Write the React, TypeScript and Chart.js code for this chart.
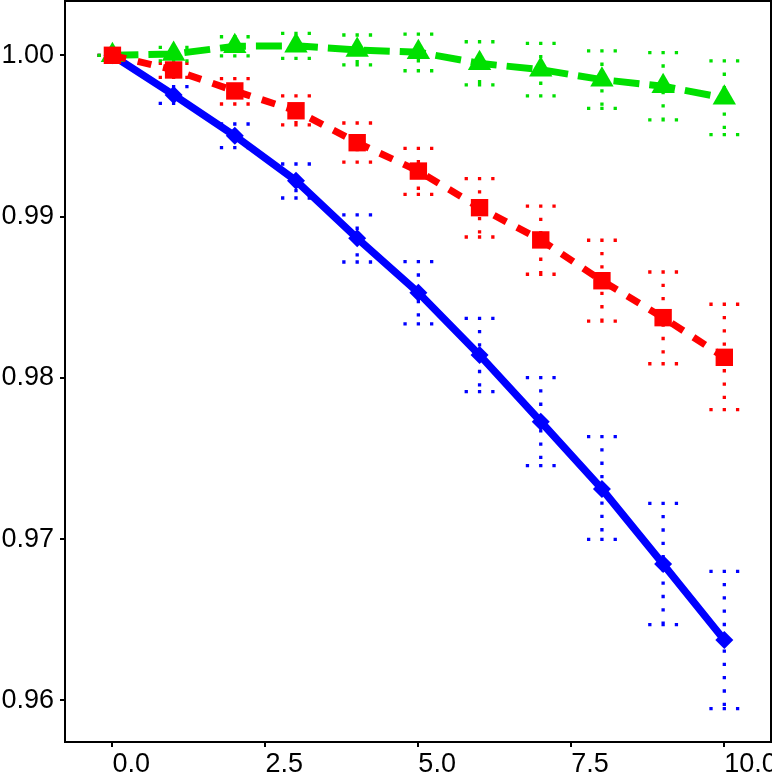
import { useRef, useEffect } from "react";
import { Chart, registerables, type Plugin } from "chart.js";

Chart.register(...registerables);

const X_VALUES = [0, 1, 2, 3, 4, 5, 6, 7, 8, 9, 10];
const X_TICKS = [0, 2.5, 5, 7.5, 10];
const Y_TICKS = [0.96, 0.97, 0.98, 0.99, 1.0];

const BLUE_MEAN = [1.0, 0.99754, 0.99501, 0.99222, 0.98865, 0.98528, 0.98141, 0.97728, 0.9731, 0.96845, 0.96374];
const BLUE_LOW = [1.0, 0.99702, 0.99428, 0.99115, 0.98718, 0.98335, 0.97914, 0.97455, 0.96998, 0.96469, 0.95948];
const BLUE_HIGH = [1.0, 0.99806, 0.99574, 0.99326, 0.9901, 0.9872, 0.98369, 0.98001, 0.97635, 0.97221, 0.968];

const RED_MEAN = [1.0, 0.99909, 0.99779, 0.99656, 0.99458, 0.99282, 0.99055, 0.98855, 0.98602, 0.98373, 0.98127];
const RED_LOW = [1.0, 0.99863, 0.99698, 0.99568, 0.99338, 0.99138, 0.98873, 0.98642, 0.98352, 0.98087, 0.97802];
const RED_HIGH = [1.0, 0.9995, 0.99855, 0.99748, 0.9958, 0.99423, 0.99235, 0.99065, 0.98853, 0.98656, 0.98456];

const GREEN_MEAN = [1.0, 1.00008, 1.00056, 1.00059, 1.00033, 1.00019, 0.9995, 0.99911, 0.99849, 0.99808, 0.99736];
const GREEN_LOW = [1.0, 0.99966, 0.99996, 0.99981, 0.9994, 0.99904, 0.99816, 0.99748, 0.99671, 0.99599, 0.99508];
const GREEN_HIGH = [1.0, 1.00049, 1.00115, 1.00136, 1.00126, 1.00131, 1.00084, 1.00074, 1.00027, 1.00016, 0.99965];

const BLUE = "#0000FF";
const RED = "#FF0000";
const GREEN = "#00E000";

const ERRORS = [
  { color: BLUE, low: BLUE_LOW, high: BLUE_HIGH },
  { color: RED, low: RED_LOW, high: RED_HIGH },
  { color: GREEN, low: GREEN_LOW, high: GREEN_HIGH },
];

const FONT = { family: "'Liberation Sans', Arial, sans-serif", size: 27 };

// dotted error bars with dotted caps, drawn under the lines
const errorBars: Plugin<"line"> = {
  id: "errorBars",
  beforeDatasetsDraw(chart) {
    const { ctx, scales } = chart;
    const xs = scales.x;
    const ys = scales.y;
    const dot = 3.3;
    const period = 13.3;
    ctx.save();
    ctx.lineWidth = dot;
    ctx.lineCap = "butt";
    ctx.setLineDash([dot, period - dot]);
    ERRORS.forEach((e) => {
      ctx.strokeStyle = e.color;
      X_VALUES.forEach((xv, i) => {
        const px = xs.getPixelForValue(xv);
        const top = ys.getPixelForValue(e.high[i]);
        const bot = ys.getPixelForValue(e.low[i]);
        ctx.beginPath();
        ctx.moveTo(px, top - dot / 2);
        ctx.lineTo(px, bot + dot / 2);
        [top, bot].forEach((py) => {
          ctx.moveTo(px - period - dot / 2, py);
          ctx.lineTo(px + period + dot / 2, py);
        });
        ctx.stroke();
      });
    });
    ctx.restore();
  },
  afterDraw(chart) {
    const { ctx, chartArea } = chart;
    ctx.save();
    ctx.strokeStyle = "#000";
    ctx.lineWidth = 2;
    ctx.beginPath();
    ctx.moveTo(chartArea.left, chartArea.top);
    ctx.lineTo(chartArea.right, chartArea.top);
    ctx.lineTo(chartArea.right, chartArea.bottom);
    ctx.stroke();
    ctx.restore();
  },
};

// keep the plot box where the reference has it, regardless of label overhang
const noOverhang = (s: any) => {
  s.paddingTop = 0;
  s.paddingBottom = 0;
  s.paddingLeft = 0;
  s.paddingRight = 0;
};

export default function App() {
  const canvasRef = useRef<HTMLCanvasElement>(null);
  const chartRef = useRef<Chart | null>(null);

  useEffect(() => {
    if (!canvasRef.current) return;
    chartRef.current?.destroy();

    const toPoints = (ys: number[]) => X_VALUES.map((x, i) => ({ x, y: ys[i] }));

    chartRef.current = new Chart(canvasRef.current, {
      type: "line",
      data: {
        datasets: [
          {
            data: toPoints(RED_MEAN),
            borderColor: RED,
            backgroundColor: RED,
            borderWidth: 7,
            borderDash: [14, 12],
            pointStyle: "rect",
            pointRadius: 12.3,
            pointBorderWidth: 0,
            pointBackgroundColor: RED,
          },
          {
            data: toPoints(GREEN_MEAN),
            borderColor: GREEN,
            backgroundColor: GREEN,
            borderWidth: 7,
            borderDash: [26, 10],
            pointStyle: "triangle",
            pointRadius: 13.5,
            pointBorderWidth: 0,
            pointBackgroundColor: GREEN,
          },
          {
            data: toPoints(BLUE_MEAN),
            borderColor: BLUE,
            backgroundColor: BLUE,
            borderWidth: 7.5,
            pointStyle: "rectRot",
            pointRadius: 9,
            pointBorderWidth: 0,
            pointBackgroundColor: BLUE,
          },
        ],
      },
      options: {
        responsive: false,
        animation: false,
        devicePixelRatio: 1,
        layout: { autoPadding: false, padding: { top: 1, right: 1, left: 0, bottom: 0 } },
        plugins: { legend: { display: false }, tooltip: { enabled: false } },
        elements: { line: { tension: 0 } },
        scales: {
          x: {
            type: "linear",
            min: -0.775,
            max: 10.763,
            afterBuildTicks: (s) => {
              s.ticks = X_TICKS.map((value) => ({ value }));
            },
            afterFit: (s) => {
              s.height = 30;
              noOverhang(s);
            },
            border: { display: true, color: "#000", width: 2 },
            grid: { drawOnChartArea: false, drawTicks: true, tickLength: 5, color: "#000", lineWidth: 2 },
            ticks: {
              align: "start",
              padding: 1,
              color: "#000",
              font: FONT,
              maxRotation: 0,
              callback: (v) => Number(v).toFixed(1),
            },
          },
          y: {
            type: "linear",
            min: 0.957414,
            max: 1.003367,
            afterBuildTicks: (s) => {
              s.ticks = Y_TICKS.map((value) => ({ value }));
            },
            afterFit: (s) => {
              s.width = 65;
              noOverhang(s);
            },
            border: { display: true, color: "#000", width: 2 },
            grid: { drawOnChartArea: false, drawTicks: true, tickLength: 5, color: "#000", lineWidth: 2 },
            ticks: {
              padding: 6,
              color: "#000",
              font: FONT,
              callback: (v) => Number(v).toFixed(2),
            },
          },
        },
      },
      plugins: [errorBars],
    });

    return () => {
      chartRef.current?.destroy();
    };
  }, []);

  return (
    <div style={{ position: "fixed", left: 0, top: 0, width: 772, height: 772, background: "#fff" }}>
      <canvas ref={canvasRef} width={772} height={772} style={{ display: "block" }} />
    </div>
  );
}
